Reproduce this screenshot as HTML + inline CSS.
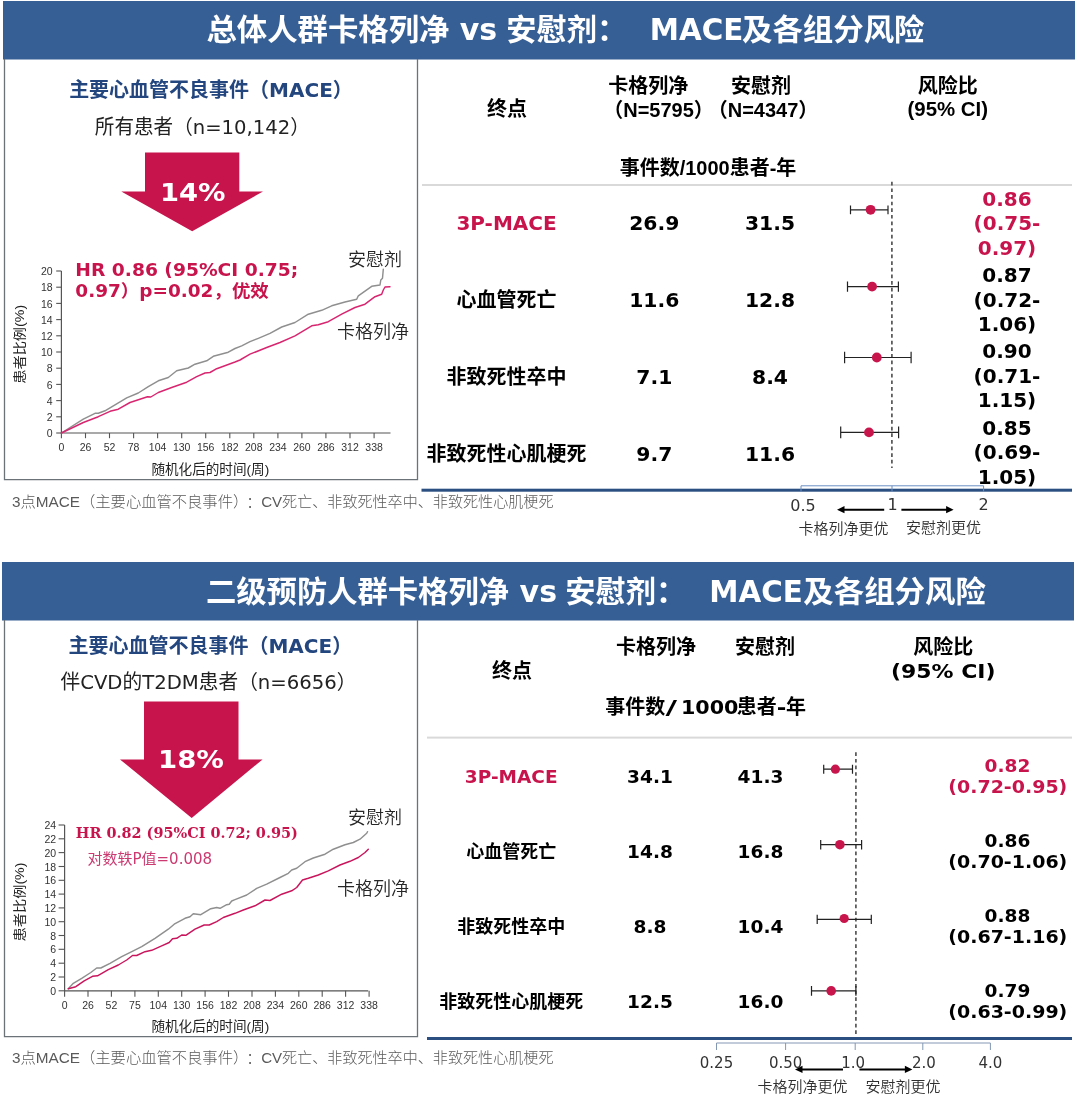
<!DOCTYPE html>
<html lang="zh-CN">
<head>
<meta charset="utf-8">
<title>MACE</title>
<style>
html,body{margin:0;padding:0;background:#fff;}
body{width:1080px;height:1106px;overflow:hidden;position:relative;}
svg{position:absolute;left:0;top:0;display:block;}
text{white-space:pre;}
</style>
</head>
<body>
<svg width="1080" height="1106" viewBox="0 0 1080 1106">
<rect x="3" y="1" width="1072" height="58.5" fill="#365f95"/>
<rect x="2" y="562" width="1072" height="58.5" fill="#365f95"/>
<text x="206.5" y="40.3" font-size="30" text-anchor="start" font-weight="700" fill="#fff" font-family='"DejaVu Sans","Noto Sans CJK SC",sans-serif'  textLength="243" lengthAdjust="spacingAndGlyphs">总体人群卡格列净</text>
<text x="478.5" y="40.3" font-size="30" text-anchor="middle" font-weight="700" fill="#fff" font-family='"DejaVu Sans","Noto Sans CJK SC",sans-serif' >vs</text>
<text x="506.3" y="40.3" font-size="30" text-anchor="start" font-weight="700" fill="#fff" font-family='"DejaVu Sans","Noto Sans CJK SC",sans-serif'  textLength="121" lengthAdjust="spacingAndGlyphs">安慰剂：</text>
<text x="649.8" y="40.3" font-size="30" text-anchor="start" font-weight="700" fill="#fff" font-family='"DejaVu Sans","Noto Sans CJK SC",sans-serif'  textLength="93.5" lengthAdjust="spacingAndGlyphs">MACE</text>
<text x="742.0" y="40.3" font-size="30" text-anchor="start" font-weight="700" fill="#fff" font-family='"DejaVu Sans","Noto Sans CJK SC",sans-serif'  textLength="182.5" lengthAdjust="spacingAndGlyphs">及各组分风险</text>
<text x="206.0" y="601.8" font-size="30" text-anchor="start" font-weight="700" fill="#fff" font-family='"DejaVu Sans","Noto Sans CJK SC",sans-serif'  textLength="303" lengthAdjust="spacingAndGlyphs">二级预防人群卡格列净</text>
<text x="538.3" y="601.8" font-size="30" text-anchor="middle" font-weight="700" fill="#fff" font-family='"DejaVu Sans","Noto Sans CJK SC",sans-serif' >vs</text>
<text x="565.3" y="601.8" font-size="30" text-anchor="start" font-weight="700" fill="#fff" font-family='"DejaVu Sans","Noto Sans CJK SC",sans-serif'  textLength="121" lengthAdjust="spacingAndGlyphs">安慰剂：</text>
<text x="709.3" y="601.8" font-size="30" text-anchor="start" font-weight="700" fill="#fff" font-family='"DejaVu Sans","Noto Sans CJK SC",sans-serif'  textLength="93.5" lengthAdjust="spacingAndGlyphs">MACE</text>
<text x="803.3" y="601.8" font-size="30" text-anchor="start" font-weight="700" fill="#fff" font-family='"DejaVu Sans","Noto Sans CJK SC",sans-serif'  textLength="182.5" lengthAdjust="spacingAndGlyphs">及各组分风险</text>
<path d="M4.5 59 V479.7 H417.5 V59" fill="none" stroke="#6b7378" stroke-width="1.3"/>
<path d="M4.5 620 V1036.7 H417.5 V620" fill="none" stroke="#6b7378" stroke-width="1.3"/>
<rect x="421.5" y="488.7" width="650.5" height="3" fill="#2a4f80"/>
<rect x="427" y="1037" width="645" height="3" fill="#2a4f80"/>
<rect x="422" y="184" width="650" height="2" fill="#d9d9d9"/>
<rect x="427" y="736.6" width="645" height="2" fill="#d9d9d9"/>
<text x="211.0" y="96.5" font-size="20" text-anchor="middle" font-weight="700" fill="#23467f" font-family='"DejaVu Sans","Noto Sans CJK SC",sans-serif' >主要心血管不良事件（MACE）</text>
<text x="202.3" y="134.2" font-size="20" text-anchor="middle" font-weight="400" fill="#222" font-family='"DejaVu Sans","Noto Sans CJK SC",sans-serif'  textLength="215" lengthAdjust="spacingAndGlyphs">所有患者（n=10,142）</text>
<text x="210.3" y="652.7" font-size="20" text-anchor="middle" font-weight="700" fill="#23467f" font-family='"DejaVu Sans","Noto Sans CJK SC",sans-serif' >主要心血管不良事件（MACE）</text>
<text x="208.5" y="688.7" font-size="20" text-anchor="middle" font-weight="400" fill="#222" font-family='"DejaVu Sans","Noto Sans CJK SC",sans-serif'  textLength="296" lengthAdjust="spacingAndGlyphs">伴CVD的T2DM患者（n=6656）</text>
<path d="M145 152.5 H239.3 V191.5 H263 L192.2 231.2 L121.3 191.5 H145 Z" fill="#c8144d"/>
<text x="192.7" y="200.5" font-size="25" text-anchor="middle" font-weight="700" fill="#fff" font-family='"DejaVu Sans","Noto Sans CJK SC",sans-serif'  textLength="65.5" lengthAdjust="spacingAndGlyphs">14%</text>
<path d="M144 701.5 H238.5 V759.4 H262.6 L191.7 818 L120 759.4 H144 Z" fill="#c8144d"/>
<text x="191.0" y="768.4" font-size="25" text-anchor="middle" font-weight="700" fill="#fff" font-family='"DejaVu Sans","Noto Sans CJK SC",sans-serif'  textLength="66" lengthAdjust="spacingAndGlyphs">18%</text>
<text x="12.0" y="506.5" font-size="15.3" text-anchor="start" font-weight="300" fill="#5a5a5a" font-family='"Liberation Sans","Noto Sans CJK SC",sans-serif' >3点MACE（主要心血管不良事件）<tspan dx="5.7">：</tspan><tspan dx="-0.5" font-size="15.08">CV死亡、非致死性卒中、非致死性心肌梗死</tspan></text>
<text x="12.0" y="1063.0" font-size="15.3" text-anchor="start" font-weight="300" fill="#5a5a5a" font-family='"Liberation Sans","Noto Sans CJK SC",sans-serif' >3点MACE（主要心血管不良事件）<tspan dx="5.7">：</tspan><tspan dx="-0.5" font-size="15.08">CV死亡、非致死性卒中、非致死性心肌梗死</tspan></text>
<path d="M61.4 271 V433 H390.5" fill="none" stroke="#555" stroke-width="1.2"/>
<path d="M56.2 433.0 H61.4" stroke="#555" stroke-width="1.1"/>
<text x="52.7" y="437.1" font-size="10.5" text-anchor="end" font-weight="400" fill="#333" font-family='"Liberation Sans","Noto Sans CJK SC",sans-serif' >0</text>
<path d="M56.2 416.8 H61.4" stroke="#555" stroke-width="1.1"/>
<text x="52.7" y="420.9" font-size="10.5" text-anchor="end" font-weight="400" fill="#333" font-family='"Liberation Sans","Noto Sans CJK SC",sans-serif' >2</text>
<path d="M56.2 400.6 H61.4" stroke="#555" stroke-width="1.1"/>
<text x="52.7" y="404.7" font-size="10.5" text-anchor="end" font-weight="400" fill="#333" font-family='"Liberation Sans","Noto Sans CJK SC",sans-serif' >4</text>
<path d="M56.2 384.4 H61.4" stroke="#555" stroke-width="1.1"/>
<text x="52.7" y="388.5" font-size="10.5" text-anchor="end" font-weight="400" fill="#333" font-family='"Liberation Sans","Noto Sans CJK SC",sans-serif' >6</text>
<path d="M56.2 368.2 H61.4" stroke="#555" stroke-width="1.1"/>
<text x="52.7" y="372.3" font-size="10.5" text-anchor="end" font-weight="400" fill="#333" font-family='"Liberation Sans","Noto Sans CJK SC",sans-serif' >8</text>
<path d="M56.2 352.0 H61.4" stroke="#555" stroke-width="1.1"/>
<text x="52.7" y="356.1" font-size="10.5" text-anchor="end" font-weight="400" fill="#333" font-family='"Liberation Sans","Noto Sans CJK SC",sans-serif' >10</text>
<path d="M56.2 335.8 H61.4" stroke="#555" stroke-width="1.1"/>
<text x="52.7" y="339.9" font-size="10.5" text-anchor="end" font-weight="400" fill="#333" font-family='"Liberation Sans","Noto Sans CJK SC",sans-serif' >12</text>
<path d="M56.2 319.6 H61.4" stroke="#555" stroke-width="1.1"/>
<text x="52.7" y="323.7" font-size="10.5" text-anchor="end" font-weight="400" fill="#333" font-family='"Liberation Sans","Noto Sans CJK SC",sans-serif' >14</text>
<path d="M56.2 303.4 H61.4" stroke="#555" stroke-width="1.1"/>
<text x="52.7" y="307.5" font-size="10.5" text-anchor="end" font-weight="400" fill="#333" font-family='"Liberation Sans","Noto Sans CJK SC",sans-serif' >16</text>
<path d="M56.2 287.2 H61.4" stroke="#555" stroke-width="1.1"/>
<text x="52.7" y="291.3" font-size="10.5" text-anchor="end" font-weight="400" fill="#333" font-family='"Liberation Sans","Noto Sans CJK SC",sans-serif' >18</text>
<path d="M56.2 271.0 H61.4" stroke="#555" stroke-width="1.1"/>
<text x="52.7" y="275.1" font-size="10.5" text-anchor="end" font-weight="400" fill="#333" font-family='"Liberation Sans","Noto Sans CJK SC",sans-serif' >20</text>
<path d="M61.4 433 V438.2" stroke="#555" stroke-width="1.1"/>
<text x="61.4" y="451.3" font-size="10.5" text-anchor="middle" font-weight="400" fill="#333" font-family='"Liberation Sans","Noto Sans CJK SC",sans-serif' >0</text>
<path d="M85.5 433 V438.2" stroke="#555" stroke-width="1.1"/>
<text x="85.5" y="451.3" font-size="10.5" text-anchor="middle" font-weight="400" fill="#333" font-family='"Liberation Sans","Noto Sans CJK SC",sans-serif' >26</text>
<path d="M109.5 433 V438.2" stroke="#555" stroke-width="1.1"/>
<text x="109.5" y="451.3" font-size="10.5" text-anchor="middle" font-weight="400" fill="#333" font-family='"Liberation Sans","Noto Sans CJK SC",sans-serif' >52</text>
<path d="M133.6 433 V438.2" stroke="#555" stroke-width="1.1"/>
<text x="133.6" y="451.3" font-size="10.5" text-anchor="middle" font-weight="400" fill="#333" font-family='"Liberation Sans","Noto Sans CJK SC",sans-serif' >78</text>
<path d="M157.6 433 V438.2" stroke="#555" stroke-width="1.1"/>
<text x="157.6" y="451.3" font-size="10.5" text-anchor="middle" font-weight="400" fill="#333" font-family='"Liberation Sans","Noto Sans CJK SC",sans-serif' >104</text>
<path d="M181.7 433 V438.2" stroke="#555" stroke-width="1.1"/>
<text x="181.7" y="451.3" font-size="10.5" text-anchor="middle" font-weight="400" fill="#333" font-family='"Liberation Sans","Noto Sans CJK SC",sans-serif' >130</text>
<path d="M205.7 433 V438.2" stroke="#555" stroke-width="1.1"/>
<text x="205.7" y="451.3" font-size="10.5" text-anchor="middle" font-weight="400" fill="#333" font-family='"Liberation Sans","Noto Sans CJK SC",sans-serif' >156</text>
<path d="M229.8 433 V438.2" stroke="#555" stroke-width="1.1"/>
<text x="229.8" y="451.3" font-size="10.5" text-anchor="middle" font-weight="400" fill="#333" font-family='"Liberation Sans","Noto Sans CJK SC",sans-serif' >182</text>
<path d="M253.8 433 V438.2" stroke="#555" stroke-width="1.1"/>
<text x="253.8" y="451.3" font-size="10.5" text-anchor="middle" font-weight="400" fill="#333" font-family='"Liberation Sans","Noto Sans CJK SC",sans-serif' >208</text>
<path d="M277.9 433 V438.2" stroke="#555" stroke-width="1.1"/>
<text x="277.9" y="451.3" font-size="10.5" text-anchor="middle" font-weight="400" fill="#333" font-family='"Liberation Sans","Noto Sans CJK SC",sans-serif' >234</text>
<path d="M301.9 433 V438.2" stroke="#555" stroke-width="1.1"/>
<text x="301.9" y="451.3" font-size="10.5" text-anchor="middle" font-weight="400" fill="#333" font-family='"Liberation Sans","Noto Sans CJK SC",sans-serif' >260</text>
<path d="M325.9 433 V438.2" stroke="#555" stroke-width="1.1"/>
<text x="325.9" y="451.3" font-size="10.5" text-anchor="middle" font-weight="400" fill="#333" font-family='"Liberation Sans","Noto Sans CJK SC",sans-serif' >286</text>
<path d="M350.0 433 V438.2" stroke="#555" stroke-width="1.1"/>
<text x="350.0" y="451.3" font-size="10.5" text-anchor="middle" font-weight="400" fill="#333" font-family='"Liberation Sans","Noto Sans CJK SC",sans-serif' >312</text>
<path d="M374.1 433 V438.2" stroke="#555" stroke-width="1.1"/>
<text x="374.1" y="451.3" font-size="10.5" text-anchor="middle" font-weight="400" fill="#333" font-family='"Liberation Sans","Noto Sans CJK SC",sans-serif' >338</text>
<path d="M64.6 825 V990.8 H368.2" fill="none" stroke="#555" stroke-width="1.2"/>
<path d="M58.6 990.8 H64.6" stroke="#555" stroke-width="1.1"/>
<text x="56.1" y="994.9" font-size="10.5" text-anchor="end" font-weight="400" fill="#333" font-family='"Liberation Sans","Noto Sans CJK SC",sans-serif' >0</text>
<path d="M58.6 977.0 H64.6" stroke="#555" stroke-width="1.1"/>
<text x="56.1" y="981.1" font-size="10.5" text-anchor="end" font-weight="400" fill="#333" font-family='"Liberation Sans","Noto Sans CJK SC",sans-serif' >2</text>
<path d="M58.6 963.2 H64.6" stroke="#555" stroke-width="1.1"/>
<text x="56.1" y="967.2" font-size="10.5" text-anchor="end" font-weight="400" fill="#333" font-family='"Liberation Sans","Noto Sans CJK SC",sans-serif' >4</text>
<path d="M58.6 949.3 H64.6" stroke="#555" stroke-width="1.1"/>
<text x="56.1" y="953.4" font-size="10.5" text-anchor="end" font-weight="400" fill="#333" font-family='"Liberation Sans","Noto Sans CJK SC",sans-serif' >6</text>
<path d="M58.6 935.5 H64.6" stroke="#555" stroke-width="1.1"/>
<text x="56.1" y="939.6" font-size="10.5" text-anchor="end" font-weight="400" fill="#333" font-family='"Liberation Sans","Noto Sans CJK SC",sans-serif' >8</text>
<path d="M58.6 921.7 H64.6" stroke="#555" stroke-width="1.1"/>
<text x="56.1" y="925.8" font-size="10.5" text-anchor="end" font-weight="400" fill="#333" font-family='"Liberation Sans","Noto Sans CJK SC",sans-serif' >10</text>
<path d="M58.6 907.9 H64.6" stroke="#555" stroke-width="1.1"/>
<text x="56.1" y="912.0" font-size="10.5" text-anchor="end" font-weight="400" fill="#333" font-family='"Liberation Sans","Noto Sans CJK SC",sans-serif' >12</text>
<path d="M58.6 894.1 H64.6" stroke="#555" stroke-width="1.1"/>
<text x="56.1" y="898.2" font-size="10.5" text-anchor="end" font-weight="400" fill="#333" font-family='"Liberation Sans","Noto Sans CJK SC",sans-serif' >14</text>
<path d="M58.6 880.3 H64.6" stroke="#555" stroke-width="1.1"/>
<text x="56.1" y="884.3" font-size="10.5" text-anchor="end" font-weight="400" fill="#333" font-family='"Liberation Sans","Noto Sans CJK SC",sans-serif' >16</text>
<path d="M58.6 866.5 H64.6" stroke="#555" stroke-width="1.1"/>
<text x="56.1" y="870.5" font-size="10.5" text-anchor="end" font-weight="400" fill="#333" font-family='"Liberation Sans","Noto Sans CJK SC",sans-serif' >18</text>
<path d="M58.6 852.6 H64.6" stroke="#555" stroke-width="1.1"/>
<text x="56.1" y="856.7" font-size="10.5" text-anchor="end" font-weight="400" fill="#333" font-family='"Liberation Sans","Noto Sans CJK SC",sans-serif' >20</text>
<path d="M58.6 838.8 H64.6" stroke="#555" stroke-width="1.1"/>
<text x="56.1" y="842.9" font-size="10.5" text-anchor="end" font-weight="400" fill="#333" font-family='"Liberation Sans","Noto Sans CJK SC",sans-serif' >22</text>
<path d="M58.6 825.0 H64.6" stroke="#555" stroke-width="1.1"/>
<text x="56.1" y="829.1" font-size="10.5" text-anchor="end" font-weight="400" fill="#333" font-family='"Liberation Sans","Noto Sans CJK SC",sans-serif' >24</text>
<path d="M64.6 990.8 V996.8" stroke="#555" stroke-width="1.1"/>
<text x="64.6" y="1009.1" font-size="10.5" text-anchor="middle" font-weight="400" fill="#333" font-family='"Liberation Sans","Noto Sans CJK SC",sans-serif' >0</text>
<path d="M88.0 990.8 V996.8" stroke="#555" stroke-width="1.1"/>
<text x="88.0" y="1009.1" font-size="10.5" text-anchor="middle" font-weight="400" fill="#333" font-family='"Liberation Sans","Noto Sans CJK SC",sans-serif' >26</text>
<path d="M111.4 990.8 V996.8" stroke="#555" stroke-width="1.1"/>
<text x="111.4" y="1009.1" font-size="10.5" text-anchor="middle" font-weight="400" fill="#333" font-family='"Liberation Sans","Noto Sans CJK SC",sans-serif' >52</text>
<path d="M134.9 990.8 V996.8" stroke="#555" stroke-width="1.1"/>
<text x="134.9" y="1009.1" font-size="10.5" text-anchor="middle" font-weight="400" fill="#333" font-family='"Liberation Sans","Noto Sans CJK SC",sans-serif' >75</text>
<path d="M158.3 990.8 V996.8" stroke="#555" stroke-width="1.1"/>
<text x="158.3" y="1009.1" font-size="10.5" text-anchor="middle" font-weight="400" fill="#333" font-family='"Liberation Sans","Noto Sans CJK SC",sans-serif' >104</text>
<path d="M181.7 990.8 V996.8" stroke="#555" stroke-width="1.1"/>
<text x="181.7" y="1009.1" font-size="10.5" text-anchor="middle" font-weight="400" fill="#333" font-family='"Liberation Sans","Noto Sans CJK SC",sans-serif' >130</text>
<path d="M205.1 990.8 V996.8" stroke="#555" stroke-width="1.1"/>
<text x="205.1" y="1009.1" font-size="10.5" text-anchor="middle" font-weight="400" fill="#333" font-family='"Liberation Sans","Noto Sans CJK SC",sans-serif' >156</text>
<path d="M228.5 990.8 V996.8" stroke="#555" stroke-width="1.1"/>
<text x="228.5" y="1009.1" font-size="10.5" text-anchor="middle" font-weight="400" fill="#333" font-family='"Liberation Sans","Noto Sans CJK SC",sans-serif' >182</text>
<path d="M252.0 990.8 V996.8" stroke="#555" stroke-width="1.1"/>
<text x="252.0" y="1009.1" font-size="10.5" text-anchor="middle" font-weight="400" fill="#333" font-family='"Liberation Sans","Noto Sans CJK SC",sans-serif' >208</text>
<path d="M275.4 990.8 V996.8" stroke="#555" stroke-width="1.1"/>
<text x="275.4" y="1009.1" font-size="10.5" text-anchor="middle" font-weight="400" fill="#333" font-family='"Liberation Sans","Noto Sans CJK SC",sans-serif' >234</text>
<path d="M298.8 990.8 V996.8" stroke="#555" stroke-width="1.1"/>
<text x="298.8" y="1009.1" font-size="10.5" text-anchor="middle" font-weight="400" fill="#333" font-family='"Liberation Sans","Noto Sans CJK SC",sans-serif' >260</text>
<path d="M322.2 990.8 V996.8" stroke="#555" stroke-width="1.1"/>
<text x="322.2" y="1009.1" font-size="10.5" text-anchor="middle" font-weight="400" fill="#333" font-family='"Liberation Sans","Noto Sans CJK SC",sans-serif' >286</text>
<path d="M345.6 990.8 V996.8" stroke="#555" stroke-width="1.1"/>
<text x="345.6" y="1009.1" font-size="10.5" text-anchor="middle" font-weight="400" fill="#333" font-family='"Liberation Sans","Noto Sans CJK SC",sans-serif' >312</text>
<path d="M369.1 990.8 V996.8" stroke="#555" stroke-width="1.1"/>
<text x="369.1" y="1009.1" font-size="10.5" text-anchor="middle" font-weight="400" fill="#333" font-family='"Liberation Sans","Noto Sans CJK SC",sans-serif' >338</text>
<polyline points="61.4,433.0 83.3,419.2 95.0,413.3 98.3,413.3 105.0,410.8 126.7,397.8 138.3,393.0 148.3,386.7 158.3,380.8 168.3,377.5 176.7,370.8 188.3,368.0 195.0,364.2 206.7,360.8 213.3,356.3 228.3,352.2 235.0,348.5 241.7,345.8 250.0,341.7 258.3,338.3 270.0,333.3 281.7,327.0 295.0,322.5 308.3,314.2 321.7,310.3 331.7,305.8 345.0,302.0 356.7,299.2 358.3,295.8 371.7,286.3 380.0,285.0 380.8,280.0 382.5,278.3 383.3,269.2" fill="none" stroke="#8f8f8f" stroke-width="1.45" stroke-linejoin="round" stroke-linecap="round"/>
<polyline points="61.4,433.0 83.3,422.5 98.3,416.7 110.0,411.3 118.3,409.2 130.0,402.5 147.5,396.7 150.8,397.0 158.3,392.5 171.7,387.5 186.7,382.2 196.7,376.7 205.0,373.0 210.0,372.5 216.7,368.7 235.0,362.0 240.0,360.0 250.0,354.2 266.7,347.5 280.0,342.5 295.0,335.8 311.7,325.8 318.3,324.7 328.3,321.7 341.7,314.2 355.0,307.5 365.0,304.2 375.0,296.7 381.7,294.2 383.3,290.0 385.0,287.0 390.0,286.7" fill="none" stroke="#d8256f" stroke-width="1.45" stroke-linejoin="round" stroke-linecap="round"/>
<polyline points="68.3,988.7 73.3,983.3 81.7,978.3 90.8,972.5 96.7,968.0 100.8,968.0 110.0,963.3 121.7,956.7 133.3,950.8 141.7,946.7 155.0,938.3 168.3,929.2 174.2,924.2 185.0,918.3 190.0,916.7 193.3,913.7 200.8,914.7 210.8,908.7 216.7,907.5 220.0,908.3 226.7,904.7 229.2,904.2 231.7,901.0 235.0,899.7 246.7,895.0 256.7,888.3 266.7,884.2 280.0,877.5 288.3,873.3 291.7,870.0 296.7,868.3 305.0,861.7 313.3,858.0 325.0,854.2 333.3,849.2 345.0,844.7 353.3,842.5 360.0,839.2 366.7,833.3 367.5,831.7" fill="none" stroke="#8f8f8f" stroke-width="1.45" stroke-linejoin="round" stroke-linecap="round"/>
<polyline points="68.3,988.7 75.8,986.7 84.2,980.8 92.5,976.3 97.5,975.8 108.3,969.7 118.3,965.0 126.7,960.0 132.5,955.5 136.7,955.5 145.0,951.7 151.7,950.3 161.7,945.8 169.2,942.5 172.5,938.8 176.7,938.3 181.7,935.0 185.8,935.3 195.0,929.2 204.2,925.0 209.2,925.0 216.7,921.7 223.3,917.5 235.0,913.3 243.3,910.0 255.0,905.8 265.0,900.0 270.0,900.5 281.7,894.2 291.7,890.8 296.7,887.5 302.5,880.0 308.3,878.3 318.3,875.0 328.3,870.8 340.0,865.0 350.0,861.3 358.3,857.5 365.0,852.5 368.3,849.2" fill="none" stroke="#c9155c" stroke-width="1.45" stroke-linejoin="round" stroke-linecap="round"/>
<text transform="translate(24.2 344.3) rotate(-90)" font-size="13" text-anchor="middle" fill="#222" font-weight="400" font-family='"Liberation Sans","Noto Sans CJK SC",sans-serif' textLength="79" lengthAdjust="spacingAndGlyphs">患者比例(%)</text>
<text transform="translate(24.2 902) rotate(-90)" font-size="13" text-anchor="middle" fill="#222" font-weight="400" font-family='"Liberation Sans","Noto Sans CJK SC",sans-serif' textLength="79" lengthAdjust="spacingAndGlyphs">患者比例(%)</text>
<text x="210.3" y="473.9" font-size="13.6" text-anchor="middle" font-weight="400" fill="#222" font-family='"Liberation Sans","Noto Sans CJK SC",sans-serif' >随机化后的时间(周)</text>
<text x="210.3" y="1030.9" font-size="13.6" text-anchor="middle" font-weight="400" fill="#222" font-family='"Liberation Sans","Noto Sans CJK SC",sans-serif' >随机化后的时间(周)</text>
<text x="375.0" y="266.0" font-size="18" text-anchor="middle" font-weight="350" fill="#262626" font-family='"Liberation Sans","Noto Sans CJK SC",sans-serif' >安慰剂</text>
<text x="373.0" y="337.5" font-size="18" text-anchor="middle" font-weight="350" fill="#262626" font-family='"Liberation Sans","Noto Sans CJK SC",sans-serif' >卡格列净</text>
<text x="375.0" y="823.5" font-size="18" text-anchor="middle" font-weight="350" fill="#262626" font-family='"Liberation Sans","Noto Sans CJK SC",sans-serif' >安慰剂</text>
<text x="373.0" y="895.0" font-size="18" text-anchor="middle" font-weight="350" fill="#262626" font-family='"Liberation Sans","Noto Sans CJK SC",sans-serif' >卡格列净</text>
<text x="75.3" y="276.3" font-size="17.5" text-anchor="start" font-weight="700" fill="#c8144d" font-family='"DejaVu Sans","Noto Sans CJK SC",sans-serif'  textLength="223" lengthAdjust="spacingAndGlyphs">HR 0.86 (95%CI 0.75;</text>
<text x="75.3" y="297.3" font-size="17.5" text-anchor="start" font-weight="700" fill="#c8144d" font-family='"DejaVu Sans","Noto Sans CJK SC",sans-serif'  textLength="193.5" lengthAdjust="spacingAndGlyphs">0.97）p=0.02，优效</text>
<text x="75.8" y="838.2" font-size="14" text-anchor="start" font-weight="700" fill="#c8144d" font-family='"DejaVu Serif","Noto Serif CJK SC",serif'  textLength="222" lengthAdjust="spacingAndGlyphs">HR 0.82 (95%CI 0.72; 0.95)</text>
<text x="87.5" y="863.9" font-size="15" text-anchor="start" font-weight="400" fill="#cb3a70" font-family='"DejaVu Sans","Noto Sans CJK SC",sans-serif' >对数轶P值=0.008</text>
<text x="507.0" y="115.7" font-size="20" text-anchor="middle" font-weight="700" fill="#000" font-family='"Liberation Sans","Noto Sans CJK SC",sans-serif' >终点</text>
<text x="648.3" y="92.8" font-size="20" text-anchor="middle" font-weight="700" fill="#000" font-family='"Liberation Sans","Noto Sans CJK SC",sans-serif' >卡格列净</text>
<text x="658.5" y="116.5" font-size="20" text-anchor="middle" font-weight="700" fill="#000" font-family='"Liberation Sans","Noto Sans CJK SC",sans-serif' >（N=5795）</text>
<text x="761.0" y="92.8" font-size="20" text-anchor="middle" font-weight="700" fill="#000" font-family='"Liberation Sans","Noto Sans CJK SC",sans-serif' >安慰剂</text>
<text x="763.0" y="116.5" font-size="20" text-anchor="middle" font-weight="700" fill="#000" font-family='"Liberation Sans","Noto Sans CJK SC",sans-serif' >（N=4347）</text>
<text x="947.8" y="92.8" font-size="20" text-anchor="middle" font-weight="700" fill="#000" font-family='"Liberation Sans","Noto Sans CJK SC",sans-serif' >风险比</text>
<text x="947.8" y="115.5" font-size="20" text-anchor="middle" font-weight="700" fill="#000" font-family='"Liberation Sans","Noto Sans CJK SC",sans-serif'  textLength="80.5" lengthAdjust="spacingAndGlyphs">(95% CI)</text>
<text x="708.0" y="175.0" font-size="20" text-anchor="middle" font-weight="700" fill="#000" font-family='"Liberation Sans","Noto Sans CJK SC",sans-serif' >事件数/1000患者-年</text>
<text x="506.5" y="230.2" font-size="20" text-anchor="middle" font-weight="700" fill="#c8144d" font-family='"DejaVu Sans","Noto Sans CJK SC",sans-serif' >3P-MACE</text>
<text x="654.3" y="230.2" font-size="20" text-anchor="middle" font-weight="700" fill="#000" font-family='"DejaVu Sans","Noto Sans CJK SC",sans-serif'  textLength="50.1" lengthAdjust="spacingAndGlyphs">26.9</text>
<text x="770.0" y="230.2" font-size="20" text-anchor="middle" font-weight="700" fill="#000" font-family='"DejaVu Sans","Noto Sans CJK SC",sans-serif'  textLength="50.1" lengthAdjust="spacingAndGlyphs">31.5</text>
<text x="1007.0" y="205.9" font-size="20" text-anchor="middle" font-weight="700" fill="#c8144d" font-family='"DejaVu Sans","Noto Sans CJK SC",sans-serif' >0.86</text>
<text x="1007.0" y="230.2" font-size="20" text-anchor="middle" font-weight="700" fill="#c8144d" font-family='"DejaVu Sans","Noto Sans CJK SC",sans-serif' >(0.75-</text>
<text x="1007.0" y="254.5" font-size="20" text-anchor="middle" font-weight="700" fill="#c8144d" font-family='"DejaVu Sans","Noto Sans CJK SC",sans-serif' >0.97)</text>
<text x="506.5" y="306.9" font-size="20" text-anchor="middle" font-weight="700" fill="#000" font-family='"DejaVu Sans","Noto Sans CJK SC",sans-serif' >心血管死亡</text>
<text x="654.3" y="306.9" font-size="20" text-anchor="middle" font-weight="700" fill="#000" font-family='"DejaVu Sans","Noto Sans CJK SC",sans-serif'  textLength="50.1" lengthAdjust="spacingAndGlyphs">11.6</text>
<text x="770.0" y="306.9" font-size="20" text-anchor="middle" font-weight="700" fill="#000" font-family='"DejaVu Sans","Noto Sans CJK SC",sans-serif'  textLength="50.1" lengthAdjust="spacingAndGlyphs">12.8</text>
<text x="1007.0" y="282.2" font-size="20" text-anchor="middle" font-weight="700" fill="#000" font-family='"DejaVu Sans","Noto Sans CJK SC",sans-serif' >0.87</text>
<text x="1007.0" y="306.5" font-size="20" text-anchor="middle" font-weight="700" fill="#000" font-family='"DejaVu Sans","Noto Sans CJK SC",sans-serif' >(0.72-</text>
<text x="1007.0" y="330.8" font-size="20" text-anchor="middle" font-weight="700" fill="#000" font-family='"DejaVu Sans","Noto Sans CJK SC",sans-serif' >1.06)</text>
<text x="506.5" y="383.5" font-size="20" text-anchor="middle" font-weight="700" fill="#000" font-family='"DejaVu Sans","Noto Sans CJK SC",sans-serif' >非致死性卒中</text>
<text x="654.3" y="383.5" font-size="20" text-anchor="middle" font-weight="700" fill="#000" font-family='"DejaVu Sans","Noto Sans CJK SC",sans-serif'  textLength="36.0" lengthAdjust="spacingAndGlyphs">7.1</text>
<text x="770.0" y="383.5" font-size="20" text-anchor="middle" font-weight="700" fill="#000" font-family='"DejaVu Sans","Noto Sans CJK SC",sans-serif'  textLength="36.0" lengthAdjust="spacingAndGlyphs">8.4</text>
<text x="1007.0" y="358.4" font-size="20" text-anchor="middle" font-weight="700" fill="#000" font-family='"DejaVu Sans","Noto Sans CJK SC",sans-serif' >0.90</text>
<text x="1007.0" y="382.7" font-size="20" text-anchor="middle" font-weight="700" fill="#000" font-family='"DejaVu Sans","Noto Sans CJK SC",sans-serif' >(0.71-</text>
<text x="1007.0" y="407.0" font-size="20" text-anchor="middle" font-weight="700" fill="#000" font-family='"DejaVu Sans","Noto Sans CJK SC",sans-serif' >1.15)</text>
<text x="506.5" y="461.2" font-size="20" text-anchor="middle" font-weight="700" fill="#000" font-family='"DejaVu Sans","Noto Sans CJK SC",sans-serif' >非致死性心肌梗死</text>
<text x="654.3" y="461.2" font-size="20" text-anchor="middle" font-weight="700" fill="#000" font-family='"DejaVu Sans","Noto Sans CJK SC",sans-serif'  textLength="36.0" lengthAdjust="spacingAndGlyphs">9.7</text>
<text x="770.0" y="461.2" font-size="20" text-anchor="middle" font-weight="700" fill="#000" font-family='"DejaVu Sans","Noto Sans CJK SC",sans-serif'  textLength="50.1" lengthAdjust="spacingAndGlyphs">11.6</text>
<text x="1007.0" y="434.9" font-size="20" text-anchor="middle" font-weight="700" fill="#000" font-family='"DejaVu Sans","Noto Sans CJK SC",sans-serif' >0.85</text>
<text x="1007.0" y="459.2" font-size="20" text-anchor="middle" font-weight="700" fill="#000" font-family='"DejaVu Sans","Noto Sans CJK SC",sans-serif' >(0.69-</text>
<text x="1007.0" y="483.5" font-size="20" text-anchor="middle" font-weight="700" fill="#000" font-family='"DejaVu Sans","Noto Sans CJK SC",sans-serif' >1.05)</text>
<path d="M891.9 181.8 V468" stroke="#555" stroke-width="1.7" stroke-dasharray="3.7 2.92" fill="none"/>
<path d="M850.5 209.8 H888.0 M850.5 205.4 V214.2 M888.0 205.4 V214.2" stroke="#222" stroke-width="1.2" fill="none"/>
<circle cx="870.6" cy="209.8" r="4.9" fill="#c8154b"/>
<path d="M847.5 286.6 H898.4 M847.5 281.4 V291.8 M898.4 281.4 V291.8" stroke="#222" stroke-width="1.2" fill="none"/>
<circle cx="872.1" cy="286.6" r="4.9" fill="#c8154b"/>
<path d="M844.6 357.5 H911.1 M844.6 351.7 V363.3 M911.1 351.7 V363.3" stroke="#222" stroke-width="1.2" fill="none"/>
<circle cx="876.8" cy="357.5" r="4.9" fill="#c8154b"/>
<path d="M840.7 432.4 H898.6 M840.7 426.6 V438.2 M898.6 426.6 V438.2" stroke="#222" stroke-width="1.2" fill="none"/>
<circle cx="869.0" cy="432.4" r="4.9" fill="#c8154b"/>
<path d="M801 492 V485.8 H983.6 V492 M892 485.8 V492" stroke="#6a8ec2" stroke-width="1" fill="none"/>
<text x="803.0" y="511.3" font-size="16" text-anchor="middle" font-weight="400" fill="#333" font-family='"DejaVu Sans","Noto Sans CJK SC",sans-serif' >0.5</text>
<text x="892.5" y="509.8" font-size="16" text-anchor="middle" font-weight="400" fill="#333" font-family='"DejaVu Sans","Noto Sans CJK SC",sans-serif' >1</text>
<text x="983.6" y="509.8" font-size="16" text-anchor="middle" font-weight="400" fill="#333" font-family='"DejaVu Sans","Noto Sans CJK SC",sans-serif' >2</text>
<path d="M842.0 509.7 H884.2" stroke="#000" stroke-width="2"/><path d="M837.0 509.7 L844.5 506.09999999999997 V513.3 Z" fill="#000"/>
<path d="M901.4 509.7 H948.6" stroke="#000" stroke-width="2"/><path d="M953.6 509.7 L946.1 506.09999999999997 V513.3 Z" fill="#000"/>
<text x="843.6" y="533.7" font-size="15" text-anchor="middle" font-weight="350" fill="#303030" font-family='"Liberation Sans","Noto Sans CJK SC",sans-serif' >卡格列净更优</text>
<text x="943.5" y="532.7" font-size="15" text-anchor="middle" font-weight="350" fill="#303030" font-family='"Liberation Sans","Noto Sans CJK SC",sans-serif' >安慰剂更优</text>
<text x="512.0" y="677.5" font-size="20" text-anchor="middle" font-weight="700" fill="#000" font-family='"DejaVu Sans","Noto Sans CJK SC",sans-serif' >终点</text>
<text x="656.0" y="654.2" font-size="20" text-anchor="middle" font-weight="700" fill="#000" font-family='"DejaVu Sans","Noto Sans CJK SC",sans-serif' >卡格列净</text>
<text x="765.0" y="654.2" font-size="20" text-anchor="middle" font-weight="700" fill="#000" font-family='"DejaVu Sans","Noto Sans CJK SC",sans-serif' >安慰剂</text>
<text x="943.3" y="654.2" font-size="20" text-anchor="middle" font-weight="700" fill="#000" font-family='"DejaVu Sans","Noto Sans CJK SC",sans-serif' >风险比</text>
<text x="943.3" y="677.5" font-size="20" text-anchor="middle" font-weight="700" fill="#000" font-family='"DejaVu Sans","Noto Sans CJK SC",sans-serif'  textLength="104.5" lengthAdjust="spacingAndGlyphs">(95% CI)</text>
<text y="713.5" font-size="20" font-weight="700" fill="#000" font-family='"DejaVu Sans","Noto Sans CJK SC",sans-serif'><tspan x="605.3">事件数</tspan><tspan x="665.6" textLength="11.6" lengthAdjust="spacingAndGlyphs">/</tspan><tspan x="681" textLength="57.5" lengthAdjust="spacingAndGlyphs">1000</tspan><tspan x="736.8">患者</tspan><tspan x="776.7" textLength="9.6" lengthAdjust="spacingAndGlyphs">-</tspan><tspan x="786">年</tspan></text>
<text x="511.2" y="782.8" font-size="18" text-anchor="middle" font-weight="700" fill="#c8144d" font-family='"DejaVu Sans","Noto Sans CJK SC",sans-serif'  textLength="92.7" lengthAdjust="spacingAndGlyphs">3P-MACE</text>
<text x="650.0" y="783.3" font-size="18" text-anchor="middle" font-weight="700" fill="#000" font-family='"DejaVu Sans","Noto Sans CJK SC",sans-serif'  textLength="45.8" lengthAdjust="spacingAndGlyphs">34.1</text>
<text x="760.5" y="783.3" font-size="18" text-anchor="middle" font-weight="700" fill="#000" font-family='"DejaVu Sans","Noto Sans CJK SC",sans-serif'  textLength="45.8" lengthAdjust="spacingAndGlyphs">41.3</text>
<text x="1007.5" y="772.4" font-size="18" text-anchor="middle" font-weight="700" fill="#c8144d" font-family='"DejaVu Sans","Noto Sans CJK SC",sans-serif'  textLength="45.8" lengthAdjust="spacingAndGlyphs">0.82</text>
<text x="1007.8" y="793.2" font-size="18" text-anchor="middle" font-weight="700" fill="#c8144d" font-family='"DejaVu Sans","Noto Sans CJK SC",sans-serif'  textLength="119" lengthAdjust="spacingAndGlyphs">(0.72-0.95)</text>
<text x="511.3" y="857.8" font-size="18" text-anchor="middle" font-weight="700" fill="#000" font-family='"DejaVu Sans","Noto Sans CJK SC",sans-serif' >心血管死亡</text>
<text x="650.0" y="858.3" font-size="18" text-anchor="middle" font-weight="700" fill="#000" font-family='"DejaVu Sans","Noto Sans CJK SC",sans-serif'  textLength="45.8" lengthAdjust="spacingAndGlyphs">14.8</text>
<text x="760.5" y="858.3" font-size="18" text-anchor="middle" font-weight="700" fill="#000" font-family='"DejaVu Sans","Noto Sans CJK SC",sans-serif'  textLength="45.8" lengthAdjust="spacingAndGlyphs">16.8</text>
<text x="1007.5" y="847.4" font-size="18" text-anchor="middle" font-weight="700" fill="#000" font-family='"DejaVu Sans","Noto Sans CJK SC",sans-serif'  textLength="45.8" lengthAdjust="spacingAndGlyphs">0.86</text>
<text x="1007.8" y="868.2" font-size="18" text-anchor="middle" font-weight="700" fill="#000" font-family='"DejaVu Sans","Noto Sans CJK SC",sans-serif'  textLength="119" lengthAdjust="spacingAndGlyphs">(0.70-1.06)</text>
<text x="511.3" y="932.5" font-size="18" text-anchor="middle" font-weight="700" fill="#000" font-family='"DejaVu Sans","Noto Sans CJK SC",sans-serif' >非致死性卒中</text>
<text x="650.0" y="933.0" font-size="18" text-anchor="middle" font-weight="700" fill="#000" font-family='"DejaVu Sans","Noto Sans CJK SC",sans-serif'  textLength="32.9" lengthAdjust="spacingAndGlyphs">8.8</text>
<text x="760.5" y="933.0" font-size="18" text-anchor="middle" font-weight="700" fill="#000" font-family='"DejaVu Sans","Noto Sans CJK SC",sans-serif'  textLength="45.8" lengthAdjust="spacingAndGlyphs">10.4</text>
<text x="1007.5" y="922.1" font-size="18" text-anchor="middle" font-weight="700" fill="#000" font-family='"DejaVu Sans","Noto Sans CJK SC",sans-serif'  textLength="45.8" lengthAdjust="spacingAndGlyphs">0.88</text>
<text x="1007.8" y="942.9" font-size="18" text-anchor="middle" font-weight="700" fill="#000" font-family='"DejaVu Sans","Noto Sans CJK SC",sans-serif'  textLength="119" lengthAdjust="spacingAndGlyphs">(0.67-1.16)</text>
<text x="511.3" y="1007.5" font-size="18" text-anchor="middle" font-weight="700" fill="#000" font-family='"DejaVu Sans","Noto Sans CJK SC",sans-serif' >非致死性心肌梗死</text>
<text x="650.0" y="1008.0" font-size="18" text-anchor="middle" font-weight="700" fill="#000" font-family='"DejaVu Sans","Noto Sans CJK SC",sans-serif'  textLength="45.8" lengthAdjust="spacingAndGlyphs">12.5</text>
<text x="760.5" y="1008.0" font-size="18" text-anchor="middle" font-weight="700" fill="#000" font-family='"DejaVu Sans","Noto Sans CJK SC",sans-serif'  textLength="45.8" lengthAdjust="spacingAndGlyphs">16.0</text>
<text x="1007.5" y="997.1" font-size="18" text-anchor="middle" font-weight="700" fill="#000" font-family='"DejaVu Sans","Noto Sans CJK SC",sans-serif'  textLength="45.8" lengthAdjust="spacingAndGlyphs">0.79</text>
<text x="1007.8" y="1017.9" font-size="18" text-anchor="middle" font-weight="700" fill="#000" font-family='"DejaVu Sans","Noto Sans CJK SC",sans-serif'  textLength="119" lengthAdjust="spacingAndGlyphs">(0.63-0.99)</text>
<path d="M855.9 752.3 V1036" stroke="#555" stroke-width="1.7" stroke-dasharray="3.7 2.92" fill="none"/>
<path d="M823.7 769.2 H852.5 M823.7 764.7 V773.7 M852.5 764.7 V773.7" stroke="#222" stroke-width="1.2" fill="none"/>
<circle cx="835.4" cy="769.2" r="4.6" fill="#c8154b"/>
<path d="M820.7 844.7 H861.6 M820.7 839.9 V849.5 M861.6 839.9 V849.5" stroke="#222" stroke-width="1.2" fill="none"/>
<circle cx="839.9" cy="844.7" r="4.8" fill="#c8154b"/>
<path d="M817.2 919.4 H871.3 M817.2 914.7 V924.1 M871.3 914.7 V924.1" stroke="#222" stroke-width="1.2" fill="none"/>
<circle cx="844.2" cy="918.5" r="4.6" fill="#c8154b"/>
<path d="M811.5 990.9 H855.9 M811.5 986.1 V995.7 M855.9 986.1 V995.7" stroke="#222" stroke-width="1.2" fill="none"/>
<circle cx="831.2" cy="990.9" r="4.8" fill="#c8154b"/>
<path d="M716.5 1050 V1043 H990.4 V1050 M785.6 1043 V1050 M855.2 1043 V1050 M922.8 1043 V1050" stroke="#8397b3" stroke-width="1" fill="none"/>
<text x="716.5" y="1067.9" font-size="15" text-anchor="middle" font-weight="400" fill="#333" font-family='"DejaVu Sans","Noto Sans CJK SC",sans-serif' >0.25</text>
<text x="785.6" y="1067.9" font-size="15" text-anchor="middle" font-weight="400" fill="#333" font-family='"DejaVu Sans","Noto Sans CJK SC",sans-serif' >0.50</text>
<text x="853.2" y="1067.9" font-size="15" text-anchor="middle" font-weight="400" fill="#333" font-family='"DejaVu Sans","Noto Sans CJK SC",sans-serif' >1.0</text>
<text x="924.0" y="1067.9" font-size="15" text-anchor="middle" font-weight="400" fill="#333" font-family='"DejaVu Sans","Noto Sans CJK SC",sans-serif' >2.0</text>
<text x="990.4" y="1067.9" font-size="15" text-anchor="middle" font-weight="400" fill="#333" font-family='"DejaVu Sans","Noto Sans CJK SC",sans-serif' >4.0</text>
<path d="M800.0 1069.4 H843.0" stroke="#000" stroke-width="2"/><path d="M795.0 1069.4 L802.5 1065.8000000000002 V1073.0 Z" fill="#000"/>
<path d="M859.4 1069.4 H907.4" stroke="#000" stroke-width="2"/><path d="M912.4 1069.4 L904.9 1065.8000000000002 V1073.0 Z" fill="#000"/>
<text x="802.5" y="1091.7" font-size="15" text-anchor="middle" font-weight="350" fill="#303030" font-family='"Liberation Sans","Noto Sans CJK SC",sans-serif' >卡格列净更优</text>
<text x="903.0" y="1091.7" font-size="15" text-anchor="middle" font-weight="350" fill="#303030" font-family='"Liberation Sans","Noto Sans CJK SC",sans-serif' >安慰剂更优</text>
</svg>
</body>
</html>
